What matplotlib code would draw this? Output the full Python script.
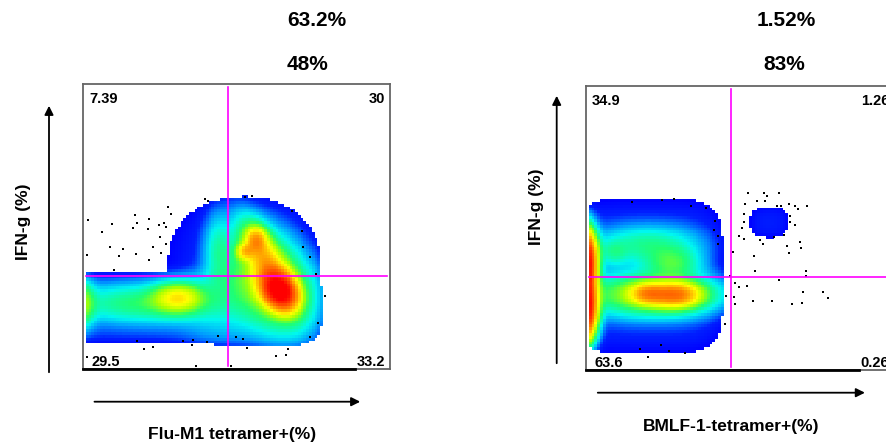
import numpy as np
import matplotlib
matplotlib.use('Agg')
import matplotlib.pyplot as plt
from matplotlib.colors import LinearSegmentedColormap
from matplotlib.patches import FancyArrowPatch

plt.rcParams['font.family'] = ['Liberation Sans', 'DejaVu Sans']

W, H = 886, 447

# ---- texts ----
top_pct = ['63.2%', '1.52%']
mid_pct = ['48%', '83%']
quad_labels = [['7.39', '30', '29.5', '33.2'], ['34.9', '1.26', '63.6', '0.26']]
x_labels = ['Flu-M1 tetramer+(%)', 'BMLF-1-tetramer+(%)']
y_label = 'IFN-g (%)'

# ---- quadrant gates (data units 0-100) ----
gate_x = [47.2, 47.0]
gate_y = [32.6, 32.7]

# ---- density components: centre, spread, rotation, weight, shape power, role (1 = outline) ----
left_cx = [18, 57, 52.5, 0.5, 20, 31, 61, 60, 64, 56.5, 52.8, 44]
left_cy = [21.5, 22, 36, 23, 23, 25, 31, 37, 27.5, 45.3, 41.2, 42]
left_sx = [34, 21, 25, 3, 22, 7, 11, 4.5, 4.5, 3, 2.5, 4]
left_sy = [12.8, 14.3, 24.5, 7, 6, 4.5, 16, 13, 6, 4, 2.5, 12]
left_ang = [0, 0, 0, 0, 0, 0, 25, 25, 30, 0, 0, 0]
left_w = [2.72, 2.72, 2.72, 16, 12, 30, 25, 35, 150, 35, 30, 7]
left_p = [6, 4, 2.2, 2, 2, 2, 2, 2, 2, 2, 2, 2]
left_role = [1, 1, 1, 0, 0, 0, 0, 0, 0, 0, 0, 0]

right_cx = [20, 59.4, 0, 0, 22, 20, 29, 20, 28, 9]
right_cy = [33, 51.9, 22, 38, 26.5, 26.8, 26.4, 44, 37.5, 41]
right_sx = [24.3, 7.5, 3, 3, 19, 5, 7, 15, 8, 4]
right_sy = [27, 6.3, 9, 9, 6.5, 3.2, 3.8, 6, 5, 4]
right_ang = [0, 0, 0, 0, 0, 0, 0, 0, 0, 0]
right_w = [2.72, 2.0, 150, 150, 25, 40, 55, 10, 12, 6]
right_p = [5, 2.5, 2, 2, 2, 2, 2, 2, 2, 2]
right_role = [1, 1, 0, 0, 0, 0, 0, 0, 0, 0]

# ---- scattered events ----
left_dot_x = [1.7, 6.1, 9.3, 8.8, 12.9, 11.8, 16.9, 17.5, 16.4, 21.6, 21.3, 24.9, 26.5, 26.9,
              27.8, 28.6, 25.1, 22.9, 25.4, 21.6, 17.2, 1.4, 10.2, 27.0, 39.6, 40.8, 52.8, 54.9,
              68.2, 71.2, 71.8, 74.1, 75.8, 78.9, 76.5, 74.1, 66.7, 66.0, 62.9, 53.5, 52.0, 49.8,
              44.1, 40.3, 35.7, 35.5, 32.5, 22.7, 19.9, 17.5, 36.7, 48.2, 1.4]
left_dot_y = [52.3, 48.2, 50.9, 42.9, 42.0, 39.6, 54.0, 51.3, 49.6, 52.5, 49.2, 50.4, 51.1, 49.9,
              56.9, 54.3, 46.2, 42.9, 40.8, 38.2, 40.4, 40.0, 34.7, 43.9, 59.5, 59.1, 60.5, 60.7,
              55.4, 48.4, 42.9, 39.2, 33.3, 25.7, 16.0, 11.3, 6.9, 4.9, 4.6, 7.5, 10.4, 11.1,
              11.7, 9.6, 10.2, 8.4, 9.9, 7.8, 7.0, 9.9, 1.1, 1.1, 4.1]
right_dot_x = [14.9, 24.7, 28.5, 34.0, 39.1, 41.8, 41.6, 42.9, 42.9, 45.6, 45.1, 47.8, 46.8, 48.4,
               49.6, 52.3, 48.1, 48.4, 54.1, 60.5, 67.0, 70.2, 70.5, 76.8, 78.6, 62.5, 71.4, 71.4,
               55.0, 54.4, 65.9, 65.3, 69.7, 69.4, 57.4, 56.6, 51.2, 49.8, 50.5, 51.2, 51.4, 51.6,
               52.5, 55.6, 57.7, 58.8, 58.2, 62.5, 62.1, 63.2, 65.9, 68.0, 68.8, 71.8, 66.3, 68.0,
               66.3, 61.2, 64.3, 17.4, 20.2, 24.4, 26.9, 32.1]
right_dot_y = [59.3, 59.9, 60.1, 57.7, 56.9, 52.5, 49.3, 47.2, 44.3, 26.1, 16.2, 41.7, 33.1, 30.5,
               29.1, 29.6, 25.8, 23.2, 24.3, 24.3, 23.2, 23.5, 27.6, 27.4, 25.5, 31.7, 35.0, 33.2,
               34.9, 40.1, 41.3, 43.7, 42.8, 45.2, 44.4, 45.8, 46.0, 47.2, 49.9, 52.2, 54.8, 58.3,
               62.4, 59.5, 62.4, 61.3, 59.6, 62.2, 57.7, 57.7, 58.3, 57.7, 56.6, 57.9, 54.2, 51.1,
               52.2, 46.7, 47.5, 7.3, 4.5, 8.8, 6.8, 6.1]

cmap = LinearSegmentedColormap.from_list('flow', [
    (0.00, '#0000ff'), (0.16, '#0020ff'), (0.30, '#0098ff'), (0.42, '#00f8f0'),
    (0.54, '#20ff70'), (0.64, '#a8ff00'), (0.72, '#ffff00'), (0.85, '#ff8000'),
    (1.00, '#ff0000')])


def density(cx, cy, sx, sy, ang, w, p, role, X, Y):
    D = np.zeros_like(X)
    E = np.zeros_like(X)
    for a, b, s1, s2, t, ww, pp, r in zip(cx, cy, sx, sy, ang, w, p, role):
        th = np.radians(t)
        dx, dy = X - a, Y - b
        u = dx * np.cos(th) + dy * np.sin(th)
        v = -dx * np.sin(th) + dy * np.cos(th)
        g = ww * np.exp(-(np.abs(u / s1) ** pp + np.abs(v / s2) ** pp))
        D += g
        if r:
            E = np.maximum(E, g)
    return D, E


nx, ny = 110, 100
xs = (np.arange(nx) + 0.5) * 100 / nx
ys = (np.arange(ny) + 0.5) * 100 / ny
X, Y = np.meshgrid(xs, ys)

fig = plt.figure(figsize=(W / 100, H / 100), dpi=100)


def fx(px):
    return px / W


def fy(py):
    return 1 - py / H


panels = [
    dict(rect=(83, 84, 307, 285),
         comps=(left_cx, left_cy, left_sx, left_sy, left_ang, left_w, left_p, left_role),
         dots=(left_dot_x, left_dot_y)),
    dict(rect=(586, 86, 308, 284),
         comps=(right_cx, right_cy, right_sx, right_sy, right_ang, right_w, right_p, right_role),
         dots=(right_dot_x, right_dot_y)),
]

for i, pnl in enumerate(panels):
    l, t, w, h = pnl['rect']
    ax = fig.add_axes([fx(l), fy(t + h), w / W, h / H])
    D, E = density(*pnl['comps'], X, Y)
    c = np.log(np.maximum(D, 1e-9)) / np.log(150)
    c = np.ma.masked_where((E < 1) | (X < 1), np.clip(c, 0, 1))
    ax.imshow(c, extent=(0, 100, 0, 100), origin='lower', cmap=cmap, vmin=0, vmax=1,
              interpolation='nearest', aspect='auto', zorder=1)
    ax.scatter(pnl['dots'][0], pnl['dots'][1], s=3, marker='s', color='black', linewidths=0, zorder=2)
    ax.plot([gate_x[i], gate_x[i]], [1, 99], color='#ff00ff', lw=1.2, zorder=3)
    ax.plot([1, 99], [gate_y[i], gate_y[i]], color='#ff00ff', lw=1.2, zorder=3)
    ax.set_xlim(0, 100)
    ax.set_ylim(0, 100)
    ax.set_xticks([])
    ax.set_yticks([])
    for s in ax.spines.values():
        s.set_color('#666666')
        s.set_linewidth(1.3)
    ax.plot([0, 0.886], [0, 0], transform=ax.transAxes, color='black', lw=2, clip_on=False, zorder=4)
    q = quad_labels[i]
    fs = 10.5
    ax.text(0.02, 0.947, q[0], transform=ax.transAxes, fontsize=fs, fontweight='bold', ha='left', va='center')
    ax.text(0.984, 0.947, q[1], transform=ax.transAxes, fontsize=fs, fontweight='bold', ha='right', va='center')
    ax.text(0.028, 0.024, q[2], transform=ax.transAxes, fontsize=fs, fontweight='bold', ha='left', va='center')
    ax.text(0.984, 0.024, q[3], transform=ax.transAxes, fontsize=fs, fontweight='bold', ha='right', va='center')

# percentage headers
fig.text(fx(316.7), fy(20.7), top_pct[0], fontsize=15, fontweight='bold', ha='center', va='center')
fig.text(fx(307.7), fy(64), mid_pct[0], fontsize=15, fontweight='bold', ha='center', va='center')
fig.text(fx(786.7), fy(20.7), top_pct[1], fontsize=15, fontweight='bold', ha='center', va='center')
fig.text(fx(784), fy(64), mid_pct[1], fontsize=15, fontweight='bold', ha='center', va='center')

# axis labels
fig.text(fx(24), fy(222), y_label, fontsize=12.5, fontweight='bold', rotation=90, ha='center', va='center')
fig.text(fx(536.7), fy(206.7), y_label, fontsize=12.5, fontweight='bold', rotation=90, ha='center', va='center')
fig.text(fx(231.7), fy(435), x_labels[0], fontsize=12.5, fontweight='bold', ha='center', va='center')
fig.text(fx(730.7), fy(426.7), x_labels[1], fontsize=12.5, fontweight='bold', ha='center', va='center')

# arrows
arrows = [((49, 375), (49, 103)), ((91.7, 401.7), (363, 401.7)),
          ((556.7, 366), (556.7, 93)), ((595, 392.7), (867.7, 392.7))]
for (x0, y0), (x1, y1) in arrows:
    fig.add_artist(FancyArrowPatch((fx(x0), fy(y0)), (fx(x1), fy(y1)), transform=fig.transFigure,
                                   arrowstyle='-|>', mutation_scale=13, lw=1.3, color='black'))

fig.savefig('out.png', dpi=100)
